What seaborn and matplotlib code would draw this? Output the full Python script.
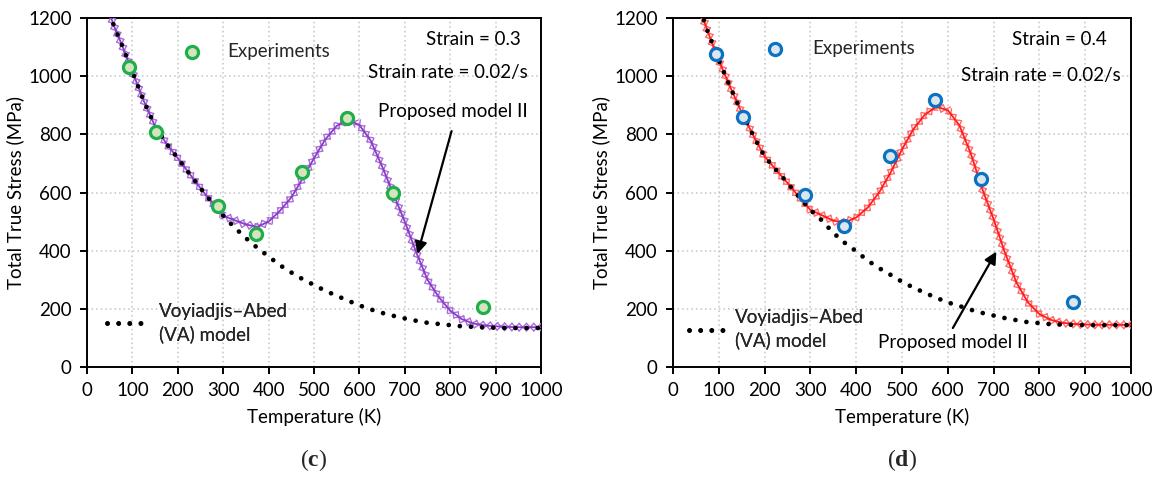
import matplotlib
matplotlib.use("Agg")
import matplotlib.pyplot as plt
import matplotlib.patheffects as pe
import numpy as np
import pandas as pd
import seaborn as sns

# ---------------- data ----------------
temps = [50, 60, 75, 100, 125, 150, 175, 200, 225, 250, 275, 300, 325, 350, 375,
         400, 425, 450, 475, 500, 525, 550, 575, 600, 625, 650, 675, 700, 725, 750,
         775, 800, 825, 850, 875, 900, 925, 950, 975, 1000]

va_c = [1215, 1170, 1115, 1015, 915, 828, 768, 718, 666, 615, 566, 520, 480, 443, 410,
        380, 350, 325, 302, 282, 262, 245, 228, 212, 198, 186, 176, 167, 159, 152,
        148, 144, 140, 138, 136, 135, 134, 134, 134, 134]
model_c = [1215, 1170, 1115, 1015, 915, 828, 768, 718, 666, 615, 566, 520, 505, 490, 482,
           500, 537, 583, 648, 718, 783, 829, 850, 832, 778, 690, 594, 500, 395, 300,
           240, 194, 165, 150, 143, 140, 138, 137, 137, 137]

va_d = [1280, 1225, 1157, 1055, 962, 875, 797, 724, 678, 633, 585, 540, 504, 461, 427,
        398, 366, 340, 317, 293, 273, 255, 238, 222, 210, 197, 186, 177, 168, 161,
        154, 151, 147, 146, 145, 144, 144, 144, 144, 144]
model_d = [1280, 1225, 1157, 1055, 962, 875, 797, 724, 678, 633, 585, 540, 522, 503, 497,
           514, 548, 600, 668, 748, 818, 868, 895, 883, 832, 735, 613, 508, 392, 290,
           222, 182, 162, 152, 148, 146, 145, 145, 145, 145]

exp_T = [93, 153, 288, 373, 473, 573, 673, 873]
exp_c = [1030, 808, 553, 456, 672, 857, 598, 208]
exp_d = [1075, 858, 593, 486, 726, 917, 648, 224]

x_ticks = list(range(0, 1001, 100))
y_ticks = list(range(0, 1201, 200))

# ---------------- style ----------------
sns.set_theme(style="ticks")
plt.rcParams["font.family"] = ["Lato", "DejaVu Sans"]
plt.rcParams["mathtext.fontset"] = "custom"
plt.rcParams["mathtext.rm"] = "Liberation Serif"
plt.rcParams["mathtext.bf"] = "Liberation Serif:bold"

FS = 13.5
FS_PX = FS * 100 / 72.0

fig = plt.figure(figsize=(11.61, 4.8), dpi=100)
W, H = 1161.0, 480.0
ax_c = fig.add_axes([87 / W, 1 - 367 / H, 454 / W, 349 / H])
ax_d = fig.add_axes([673 / W, 1 - 367 / H, 458 / W, 349 / H])


def draw_panel(ax, ax_px, va, model, exp, line_col, tick_col, exp_edge, exp_face, cfg):
    df_model = pd.DataFrame({"T": temps, "va": va, "model": model})
    df_exp = pd.DataFrame({"T": exp_T, "S": exp})
    px_per_k = ax_px / 1000.0

    # Proposed model II: solid line with x ticks along the path
    sns.lineplot(data=df_model, x="T", y="model", ax=ax, color=line_col, linewidth=1.3,
                 errorbar=None, legend=False, zorder=3)
    mline = ax.lines[-1]
    tk = dict(spacing=5.2, length=0.75, linewidth=1.0, foreground=tick_col)
    mline.set_path_effects([
        pe.TickedStroke(angle=45, **tk), pe.TickedStroke(angle=-135, **tk),
        pe.TickedStroke(angle=135, **tk), pe.TickedStroke(angle=-45, **tk),
        pe.Normal()])

    # VA model: black dotted line (drawn above the proposed model)
    sns.lineplot(data=df_model, x="T", y="va", ax=ax, color="black", linewidth=3.4,
                 linestyle=(0, (0.01, 2.35)), dash_capstyle="round", errorbar=None,
                 legend=False, label="Voyiadjis\u2013Abed\n(VA) model", zorder=4)
    va_line = ax.lines[-1]

    # Experiments
    sns.scatterplot(data=df_exp, x="T", y="S", ax=ax, s=76, color=exp_face,
                    edgecolor=exp_edge, linewidth=2.3, zorder=6, legend=False,
                    label="Experiments")
    exp_coll = ax.collections[-1]

    ax.set_xlim(0, 1000)
    ax.set_ylim(0, 1200)
    ax.set_xticks(x_ticks)
    ax.set_yticks(y_ticks)
    ax.set_axisbelow(True)
    ax.grid(True, color="#c4c4c4", linestyle=(0, (1, 2)), linewidth=1.1)
    for sp in ax.spines.values():
        sp.set_visible(True)
        sp.set_color("black")
        sp.set_linewidth(1.4)
    ax.tick_params(direction="out", length=5, width=1.4, colors="black",
                   labelsize=FS, pad=6)
    ax.set_xlabel("Temperature (K)", fontsize=FS, labelpad=6, color="black")
    ax.set_ylabel("Total True Stress (MPa)", fontsize=FS, labelpad=3, color="black")

    # legend "Experiments"
    hl = 2.0
    ex_c, ex_y, ex_txt = cfg["exp_leg"]
    x0 = ex_c - (hl * FS_PX / 2) / px_per_k
    pad = ((ex_txt - x0) * px_per_k - hl * FS_PX) / FS_PX
    leg1 = ax.legend(handles=[exp_coll], labels=["Experiments"], loc="center left",
                     bbox_to_anchor=(x0, ex_y), bbox_transform=ax.transData,
                     frameon=False, borderpad=0, borderaxespad=0, handlelength=hl,
                     handletextpad=pad, fontsize=FS, scatterpoints=1)
    ax.add_artist(leg1)

    # legend "VA model"
    va_x0, va_x1, va_y, va_txt = cfg["va_leg"]
    hl2 = (va_x1 - va_x0) * px_per_k / FS_PX
    pad2 = ((va_txt - va_x1) * px_per_k) / FS_PX
    leg2 = ax.legend(handles=[va_line], labels=["Voyiadjis\u2013Abed\n(VA) model"],
                     loc="center left", bbox_to_anchor=(va_x0, va_y),
                     bbox_transform=ax.transData, frameon=False, borderpad=0,
                     borderaxespad=0, handlelength=hl2, handletextpad=pad2, fontsize=FS)
    for t in leg2.get_texts():
        t.set_linespacing(1.35)
    ax.add_artist(leg2)

    for (x, y, s) in cfg["texts"]:
        ax.text(x, y, s, ha="center", va="center", fontsize=FS, color="black", zorder=7)

    (tx, ty), (hx, hy) = cfg["arrow"]
    ax.annotate("", xy=(hx, hy), xytext=(tx, ty),
                arrowprops=dict(arrowstyle="-|>", color="black", lw=1.6,
                                mutation_scale=18, shrinkA=0, shrinkB=0), zorder=7)


cfg_c = {
    "exp_leg": (231, 1086, 310),
    "va_leg": (45, 119, 152, 158),
    "texts": [(851, 1126, "Strain = 0.3"), (795, 1011, "Strain rate = 0.02/s"),
              (805, 880, "Proposed model II")],
    "arrow": ((803, 811), (728, 389)),
}
cfg_d = {
    "exp_leg": (223, 1094, 303),
    "va_leg": (34, 110, 130, 136),
    "texts": [(843, 1126, "Strain = 0.4"), (803, 1004, "Strain rate = 0.02/s"),
              (612, 83, "Proposed model II")],
    "arrow": ((611, 134), (706, 397)),
}

draw_panel(ax_c, 454, va_c, model_c, exp_c, "#8a3cc4", "#a86fdc", "#1fae4a", "#d3e4bf", cfg_c)
draw_panel(ax_d, 458, va_d, model_d, exp_d, "#ff1c1c", "#ff6a6a", "#0a72c0", "#dbe6f1", cfg_d)

fig.text(314 / W, 1 - 460 / H, r"$(\mathbf{c})$", ha="center", va="center", fontsize=17)
fig.text(902 / W, 1 - 460 / H, r"$(\mathbf{d})$", ha="center", va="center", fontsize=17)

fig.savefig("out.png", dpi=100)
